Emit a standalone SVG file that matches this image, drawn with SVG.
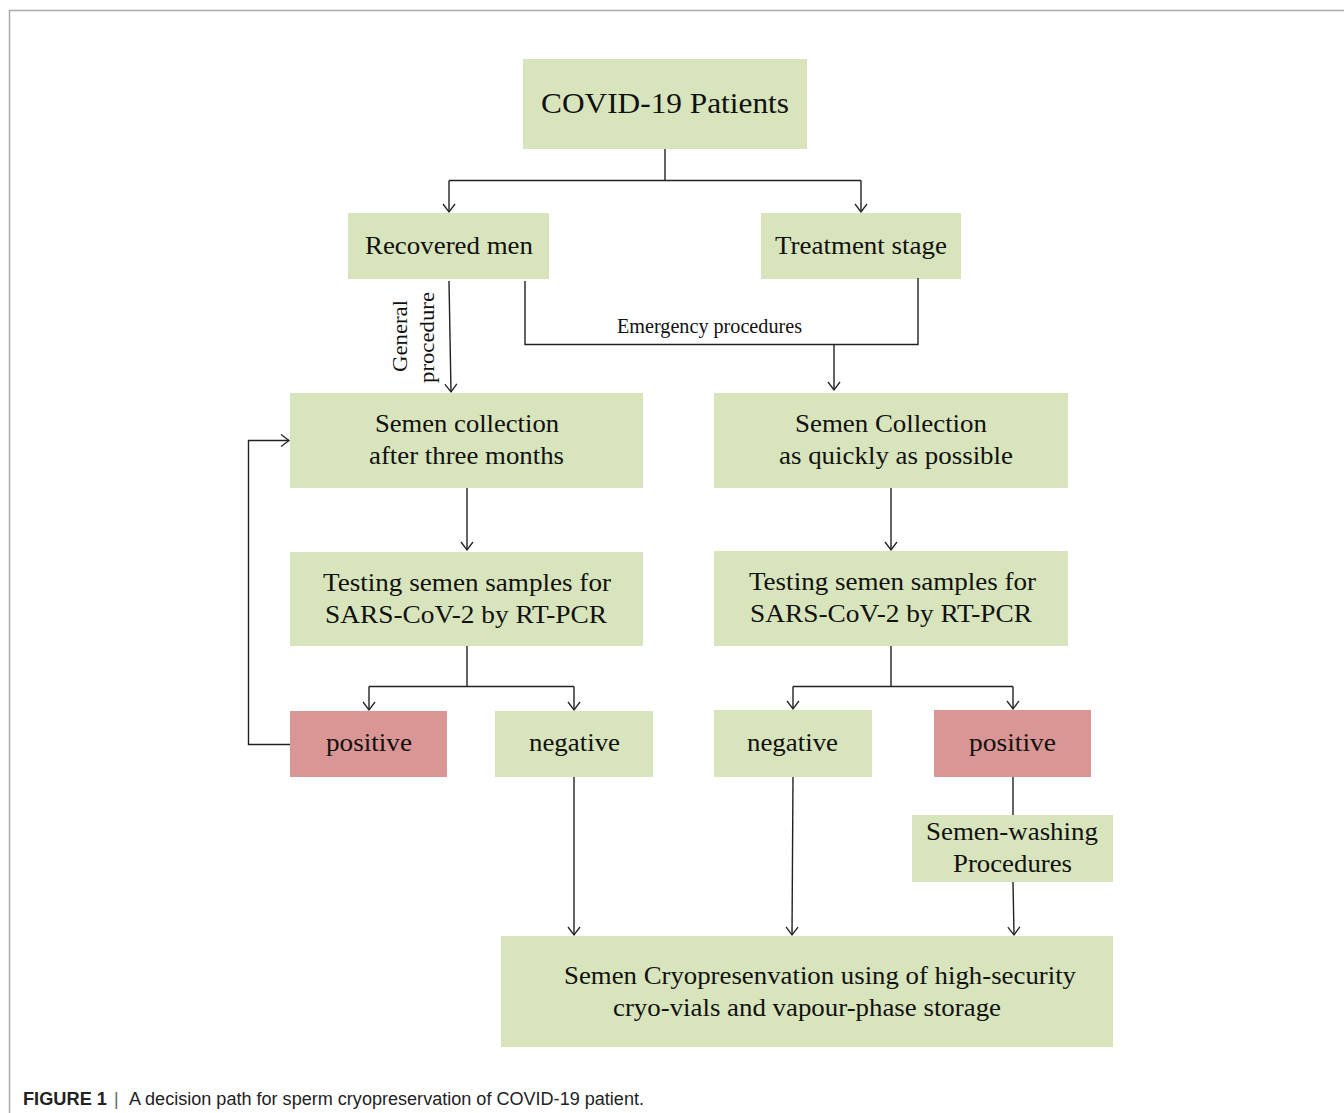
<svg xmlns="http://www.w3.org/2000/svg" width="1344" height="1113" viewBox="0 0 1344 1113">
<defs>
<marker id="arr" markerUnits="userSpaceOnUse" markerWidth="20" markerHeight="20" viewBox="-10 -10 20 20" refX="0" refY="0" orient="auto">
<path d="M-8,-6 L0,0 L-8,6" fill="none" stroke="#222" stroke-width="1.3"/>
</marker>
</defs>
<style>
.g{fill:#d8e4bc}
.p{fill:#da9694}
.t{font-family:"Liberation Serif","Times New Roman",serif;fill:#111;font-size:26px}
.c{fill:none;stroke:#222;stroke-width:1.4}
.a{marker-end:url(#arr)}
</style>
<rect width="1344" height="1113" fill="#fff"/>
<path d="M9.5,1113 V10.5 H1344" fill="none" stroke="#aaa" stroke-width="1.5"/>

<g id="n-covid"><rect class="g" x="523" y="59" width="284" height="90"/><text class="t" x="541" y="113" style="font-size:30px" textLength="248" lengthAdjust="spacingAndGlyphs">COVID-19 Patients</text></g>
<g id="n-recovered"><rect class="g" x="348" y="213" width="201" height="66"/><text class="t" x="365" y="254" textLength="168" lengthAdjust="spacingAndGlyphs">Recovered men</text></g>
<g id="n-treatment"><rect class="g" x="761" y="213" width="200" height="66"/><text class="t" x="775" y="254" textLength="172" lengthAdjust="spacingAndGlyphs">Treatment stage</text></g>
<g id="n-collect-left"><rect class="g" x="290" y="393" width="353" height="95"/><text class="t" x="375" y="432" textLength="184" lengthAdjust="spacingAndGlyphs">Semen collection</text><text class="t" x="369" y="464" textLength="195" lengthAdjust="spacingAndGlyphs">after three months</text></g>
<g id="n-collect-right"><rect class="g" x="714" y="393" width="354" height="95"/><text class="t" x="795" y="432" textLength="192" lengthAdjust="spacingAndGlyphs">Semen Collection</text><text class="t" x="779" y="464" textLength="234" lengthAdjust="spacingAndGlyphs">as quickly  as possible</text></g>
<g id="n-test-left"><rect class="g" x="290" y="552" width="353" height="94"/><text class="t" x="323" y="591" textLength="288" lengthAdjust="spacingAndGlyphs">Testing semen samples for</text><text class="t" x="325" y="623" textLength="282" lengthAdjust="spacingAndGlyphs">SARS-CoV-2 by RT-PCR</text></g>
<g id="n-test-right"><rect class="g" x="714" y="551" width="354" height="95"/><text class="t" x="749" y="590" textLength="287" lengthAdjust="spacingAndGlyphs">Testing semen samples for</text><text class="t" x="750" y="622" textLength="282" lengthAdjust="spacingAndGlyphs">SARS-CoV-2 by RT-PCR</text></g>
<g id="n-pos-left"><rect class="p" x="290" y="711" width="157" height="66"/><text class="t" x="326" y="751" textLength="86" lengthAdjust="spacingAndGlyphs">positive</text></g>
<g id="n-neg-left"><rect class="g" x="495" y="711" width="158" height="66"/><text class="t" x="529" y="751" textLength="91" lengthAdjust="spacingAndGlyphs">negative</text></g>
<g id="n-neg-right"><rect class="g" x="714" y="710" width="158" height="67"/><text class="t" x="747" y="751" textLength="91" lengthAdjust="spacingAndGlyphs">negative</text></g>
<g id="n-pos-right"><rect class="p" x="934" y="710" width="157" height="67"/><text class="t" x="969" y="751" textLength="87" lengthAdjust="spacingAndGlyphs">positive</text></g>
<g id="n-wash"><rect class="g" x="912" y="815" width="201" height="67"/><text class="t" x="926" y="840" textLength="172" lengthAdjust="spacingAndGlyphs">Semen-washing</text><text class="t" x="953" y="872" textLength="119" lengthAdjust="spacingAndGlyphs">Procedures</text></g>
<g id="n-cryo"><rect class="g" x="501" y="936" width="612" height="111"/><text class="t" x="564" y="984" textLength="512" lengthAdjust="spacingAndGlyphs">Semen Cryopresenvation using of high-security</text><text class="t" x="613" y="1016" textLength="388" lengthAdjust="spacingAndGlyphs">cryo-vials and vapour-phase storage</text></g>

<g id="connectors">
<path class="c" d="M665,149 V180.5 H449 M665,180.5 H861"/>
<path class="c a" d="M449,180.5 V212"/>
<path class="c a" d="M861,180.5 V212"/>
<path class="c a" d="M449,281 L451,392"/>
<path class="c" d="M525,281 V344.5 H918 V278"/>
<path class="c a" d="M834,344.5 V390"/>
<path class="c a" d="M467,488 V550"/>
<path class="c a" d="M891,488 V550"/>
<path class="c" d="M467,646 V686.5 H369 M467,686.5 H574"/>
<path class="c a" d="M369,686.5 V710"/>
<path class="c a" d="M574,686.5 V710"/>
<path class="c" d="M891,646 V686.5 H793 M891,686.5 H1013"/>
<path class="c a" d="M793,686.5 V709"/>
<path class="c a" d="M1013,686.5 V709"/>
<path class="c a" d="M290,744.5 H248.5 V440.5 H289"/>
<path class="c a" d="M574,777 V935"/>
<path class="c a" d="M793,777 L792,935"/>
<path class="c" d="M1013,777 V815"/>
<path class="c a" d="M1013,882 L1014,935"/>
</g>

<text class="t" x="617" y="333" style="font-size:20px" textLength="185" lengthAdjust="spacingAndGlyphs">Emergency procedures</text>
<text class="t" style="font-size:21px" transform="translate(407,372) rotate(-90)" textLength="72" lengthAdjust="spacingAndGlyphs">General</text>
<text class="t" style="font-size:21px" transform="translate(434,383) rotate(-90)" textLength="91" lengthAdjust="spacingAndGlyphs">procedure</text>

<text x="23" y="1105" font-family="'Liberation Sans',Arial,sans-serif" font-size="17.5" font-weight="bold" fill="#222" textLength="84" lengthAdjust="spacingAndGlyphs">FIGURE 1</text>
<text x="114" y="1105" font-family="'Liberation Sans',Arial,sans-serif" font-size="17.5" fill="#666">|</text>
<text x="129" y="1105" font-family="'Liberation Sans',Arial,sans-serif" font-size="17.5" fill="#222" textLength="515" lengthAdjust="spacingAndGlyphs">A decision path for sperm cryopreservation of COVID-19 patient.</text>
</svg>
